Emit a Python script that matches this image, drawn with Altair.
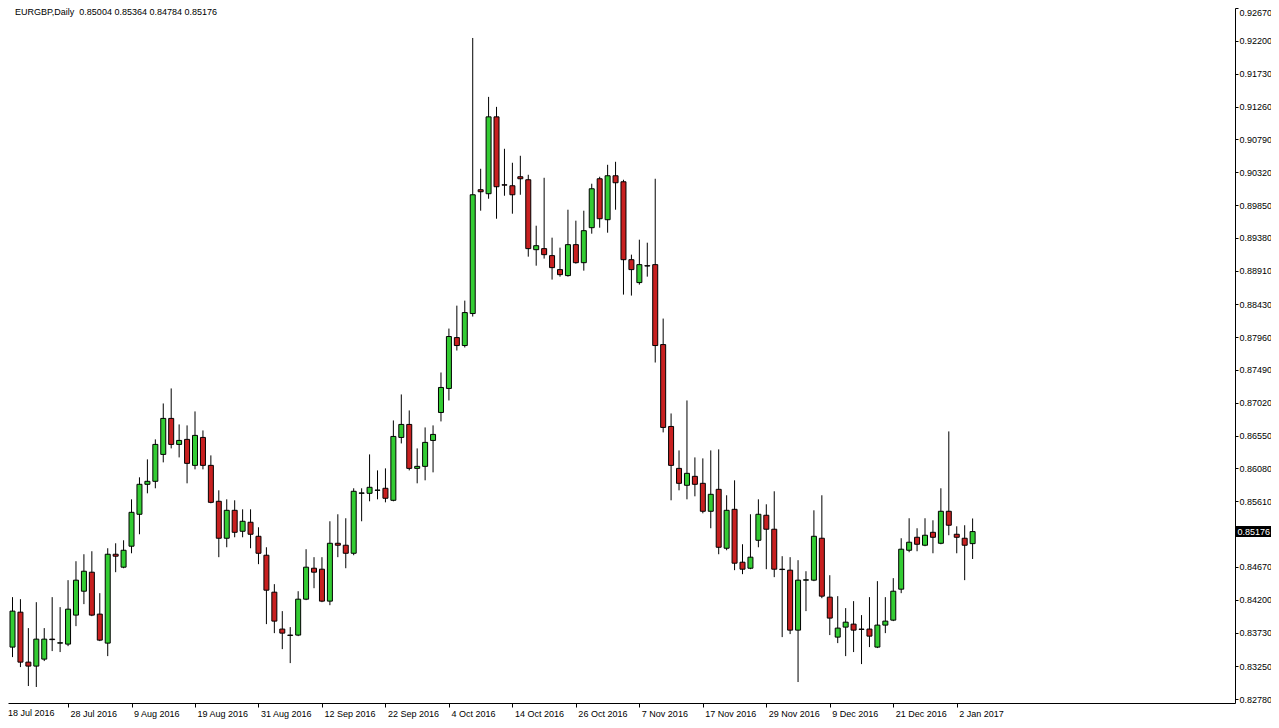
import altair as alt
import pandas as pd

# ---------------- data ----------------
open_ = [0.83666, 0.83523, 0.84023, 0.83308, 0.83251, 0.83351, 0.83637, 0.83580, 0.83566, 0.83981,
         0.84323, 0.84595, 0.83995, 0.83580, 0.84852, 0.84667, 0.84967, 0.85424, 0.85853, 0.85896,
         0.86281, 0.86796, 0.86424, 0.86496, 0.86124, 0.86524, 0.86124, 0.85610, 0.85081, 0.85481,
         0.85181, 0.85310, 0.85109, 0.84838, 0.84309, 0.83781, 0.83695, 0.83695, 0.84209, 0.84652,
         0.84638, 0.84181, 0.85009, 0.84981, 0.84866, 0.85724, 0.85724, 0.85767, 0.85796, 0.85624,
         0.86524, 0.86710, 0.86081, 0.86110, 0.86481, 0.86881, 0.87225, 0.87953, 0.87839, 0.88297,
         0.90069, 0.90012, 0.91112, 0.90140, 0.90126, 0.90255, 0.90212, 0.89211, 0.89226, 0.89126,
         0.88926, 0.88840, 0.89283, 0.89025, 0.89526, 0.90226, 0.89640, 0.90269, 0.90183, 0.89068,
         0.88740, 0.88982, 0.88997, 0.87853, 0.86681, 0.86081, 0.85839, 0.85967, 0.85867, 0.85467,
         0.85781, 0.84938, 0.85495, 0.84738, 0.84652, 0.85052, 0.85410, 0.85210, 0.84638, 0.84624,
         0.83766, 0.84481, 0.84481, 0.85081, 0.84238, 0.83666, 0.83809, 0.83852, 0.83781, 0.83781,
         0.83523, 0.83838, 0.83909, 0.84352, 0.84909, 0.85095, 0.84981, 0.85166, 0.85009, 0.85467,
         0.85138, 0.85081, 0.85004]
high = [0.84052, 0.84238, 0.84209, 0.83795, 0.84166, 0.83795, 0.84238, 0.84095, 0.84481, 0.84752,
        0.84852, 0.84895, 0.84295, 0.84938, 0.85009, 0.85052, 0.85638, 0.85953, 0.86210, 0.86496,
        0.87010, 0.87225, 0.86710, 0.86696, 0.86896, 0.86624, 0.86267, 0.85767, 0.85638, 0.85624,
        0.85495, 0.85495, 0.85238, 0.84952, 0.84424, 0.84038, 0.83809, 0.84323, 0.84924, 0.84810,
        0.84810, 0.85324, 0.85424, 0.85367, 0.85796, 0.85796, 0.86281, 0.86052, 0.86081, 0.86767,
        0.87139, 0.86910, 0.86367, 0.86667, 0.86696, 0.87453, 0.88082, 0.88410, 0.88482, 0.92241,
        0.90369, 0.91398, 0.91255, 0.90655, 0.90455, 0.90555, 0.90283, 0.89554, 0.90240, 0.89383,
        0.89240, 0.89783, 0.89626, 0.89769, 0.90155, 0.90255, 0.90426, 0.90469, 0.90212, 0.89140,
        0.89354, 0.89311, 0.90226, 0.88225, 0.86867, 0.86338, 0.87053, 0.86238, 0.86224, 0.86338,
        0.86353, 0.85696, 0.85910, 0.84995, 0.85424, 0.85638, 0.85567, 0.85753, 0.84824, 0.84810,
        0.84767, 0.84609, 0.85481, 0.85696, 0.84552, 0.84252, 0.84081, 0.84181, 0.83981, 0.84238,
        0.84467, 0.84238, 0.84510, 0.85081, 0.85367, 0.85224, 0.85367, 0.85338, 0.85796, 0.86610,
        0.85252, 0.85267, 0.85364]
low = [0.83337, 0.83380, 0.83237, 0.82966, 0.82952, 0.83323, 0.83466, 0.83452, 0.83537, 0.83823,
       0.84138, 0.83966, 0.83609, 0.83394, 0.84595, 0.84652, 0.84866, 0.85138, 0.85724, 0.85796,
       0.86167, 0.86367, 0.86238, 0.85867, 0.86067, 0.86067, 0.85581, 0.84810, 0.84952, 0.85095,
       0.85095, 0.84938, 0.84710, 0.83852, 0.83723, 0.83494, 0.83294, 0.83680, 0.84195, 0.84366,
       0.84166, 0.84123, 0.84810, 0.84652, 0.84838, 0.85324, 0.85610, 0.85638, 0.85595, 0.85610,
       0.86438, 0.86052, 0.85867, 0.85910, 0.86024, 0.86753, 0.87053, 0.87768, 0.87811, 0.88254,
       0.89769, 0.89940, 0.89654, 0.89983, 0.89726, 0.89997, 0.89111, 0.88982, 0.89083, 0.88783,
       0.88825, 0.88825, 0.89011, 0.88911, 0.89440, 0.89526, 0.89454, 0.89783, 0.88568, 0.88554,
       0.88711, 0.88825, 0.87596, 0.86596, 0.85624, 0.85767, 0.85638, 0.85681, 0.85438, 0.85224,
       0.84852, 0.84909, 0.84624, 0.84567, 0.84638, 0.84952, 0.84638, 0.84524, 0.83666, 0.83709,
       0.83023, 0.84038, 0.84467, 0.84223, 0.83695, 0.83580, 0.83394, 0.83452, 0.83280, 0.83523,
       0.83509, 0.83723, 0.83895, 0.84295, 0.84881, 0.84895, 0.84967, 0.84866, 0.84995, 0.85124,
       0.84866, 0.84481, 0.84784]
close = [0.83523, 0.84038, 0.83308, 0.83251, 0.83637, 0.83637, 0.83630, 0.83585, 0.84066, 0.84481,
         0.84609, 0.83981, 0.83623, 0.84852, 0.84824, 0.84909, 0.85452, 0.85853, 0.85896, 0.86424,
         0.86796, 0.86424, 0.86481, 0.86153, 0.86553, 0.86124, 0.85595, 0.85081, 0.85481, 0.85166,
         0.85324, 0.85138, 0.84866, 0.84338, 0.83895, 0.83723, 0.83690, 0.84209, 0.84667, 0.84595,
         0.84181, 0.85009, 0.84981, 0.84866, 0.85753, 0.85730, 0.85810, 0.85770, 0.85653, 0.86538,
         0.86710, 0.86081, 0.86110, 0.86453, 0.86567, 0.87239, 0.87968, 0.87839, 0.88311, 0.89997,
         0.90040, 0.91112, 0.90112, 0.90135, 0.89997, 0.90226, 0.89226, 0.89268, 0.89140, 0.88954,
         0.88854, 0.89283, 0.89025, 0.89483, 0.90083, 0.89654, 0.90269, 0.90169, 0.89068, 0.88926,
         0.88997, 0.88977, 0.87839, 0.86667, 0.86124, 0.85867, 0.86010, 0.85853, 0.85467, 0.85710,
         0.84952, 0.85481, 0.84724, 0.84638, 0.84810, 0.85424, 0.85210, 0.84638, 0.84633, 0.83766,
         0.84481, 0.84486, 0.85109, 0.84252, 0.83938, 0.83795, 0.83880, 0.83766, 0.83776, 0.83680,
         0.83838, 0.83895, 0.84323, 0.84924, 0.85024, 0.84995, 0.85124, 0.85095, 0.85467, 0.85267,
         0.85095, 0.84981, 0.85176]

date_tick_index = [0, 8, 16, 24, 32, 40, 48, 56, 64, 72, 80, 88, 96, 104, 112, 120]
date_tick_labels = ["18 Jul 2016", "28 Jul 2016", "9 Aug 2016", "19 Aug 2016", "31 Aug 2016",
                    "12 Sep 2016", "22 Sep 2016", "4 Oct 2016", "14 Oct 2016", "26 Oct 2016",
                    "7 Nov 2016", "17 Nov 2016", "29 Nov 2016", "9 Dec 2016", "21 Dec 2016",
                    "2 Jan 2017"]
price_ticks = [0.92670, 0.92200, 0.91730, 0.91260, 0.90790, 0.90320, 0.89850, 0.89380, 0.88910,
               0.88430, 0.87960, 0.87490, 0.87020, 0.86550, 0.86080, 0.85610, 0.84670, 0.84200,
               0.83730, 0.83250, 0.82780]
symbol = "EURGBP,Daily"

# ---------------- tables ----------------
dates = pd.bdate_range("2016-07-18", periods=len(close))
df = pd.DataFrame({"i": range(len(close)), "date": dates.strftime("%Y-%m-%d"),
                   "open": open_, "high": high, "low": low, "close": close})
df["dir"] = ["up" if c >= o else "down" for o, c in zip(open_, close)]

last = df.iloc[-1]
header_df = pd.DataFrame({"t": [f"{symbol}\u00a0\u00a0{last.open:.5f} {last.high:.5f} "
                                f"{last.low:.5f} {last.close:.5f}"]})
last_df = pd.DataFrame({"close": [last.close], "lbl": [f"{last.close:.5f}"]})
first_lbl_df = pd.DataFrame({"t": [date_tick_labels[0]]})

# ---------------- layout ----------------
W, H = 1227, 695          # plot area; svg total = 1263 wide so the page never overflows
PAD_R, PAD_B = 36, 17
FONT = "Liberation Sans"
GREEN, RED = "#33CC33", "#C82020"
PX_PER_BAR = 8.0
x0 = 8.5 / PX_PER_BAR
x1 = (W + 8.5) / PX_PER_BAR

label_js = "[" + ",".join(f"'{s}'" for s in date_tick_labels) + "]"
x_enc = alt.X("i:Q",
              scale=alt.Scale(domain=[x0, x1], nice=False, zero=False),
              axis=alt.Axis(values=date_tick_index[1:], tickCount=100, title=None, grid=False,
                            labelExpr=f"{label_js}[floor(datum.value/8)]",
                            labelAlign="left", labelBaseline="top", labelOffset=2,
                            labelPadding=2, tickSize=4, labelFlush=False, labelOverlap=False,
                            domainColor="black", tickColor="black", labelColor="black",
                            labelFont=FONT, labelFontSize=9))
y_scale = alt.Scale(domain=[0.82723, 0.92670], nice=False, zero=False)
y_axis = alt.Axis(orient="right", values=price_ticks, tickCount=100, format=".5f", title=None,
                  grid=False, tickSize=3, labelPadding=1, labelOverlap=False, labelFlush=False,
                  labelBaseline={"condition": {"test": "datum.value > 0.9266", "value": "top"},
                                 "value": "middle"},
                  domainColor="black", tickColor="black", labelColor="black",
                  labelFont=FONT, labelFontSize=9)

base = alt.Chart(df)
wicks = base.mark_rule(color="black", strokeWidth=1).encode(
    x=x_enc,
    y=alt.Y("low:Q", scale=y_scale, axis=y_axis),
    y2="high:Q",
)
bodies = base.mark_bar(size=5, stroke="black", strokeWidth=1).encode(
    x="i:Q",
    y="open:Q",
    y2="close:Q",
    color=alt.Color("dir:N", scale=alt.Scale(domain=["up", "down"], range=[GREEN, RED]),
                    legend=None),
    tooltip=["date:N", "open:Q", "high:Q", "low:Q", "close:Q"],
)

header = alt.Chart(header_df).mark_text(
    align="left", baseline="top", font=FONT, fontSize=9, color="black"
).encode(x=alt.value(7), y=alt.value(0), text="t:N")

price_box = alt.Chart(last_df).mark_rule(color="black", strokeWidth=11, strokeCap="butt").encode(
    y="close:Q", x=alt.value(W + 1), x2=alt.value(W + PAD_R))
price_txt = alt.Chart(last_df).mark_text(
    align="left", baseline="middle", font=FONT, fontSize=9, color="white"
).encode(y="close:Q", x=alt.value(W + 2.5), text="lbl:N")

first_lbl = alt.Chart(first_lbl_df).mark_text(
    align="left", baseline="top", font=FONT, fontSize=9, color="black"
).encode(x=alt.value(0), y=alt.value(H + 6), text="t:N")

chart = alt.layer(wicks, bodies, header, price_box, price_txt, first_lbl).properties(
    width=W, height=H,
    padding={"left": 0, "top": 0, "right": PAD_R, "bottom": PAD_B},
    autosize=alt.AutoSizeParams(type="none"),
    background="white",
).configure_view(stroke=None)

chart.save("out.html", embed_options={"renderer": "svg", "actions": False})
